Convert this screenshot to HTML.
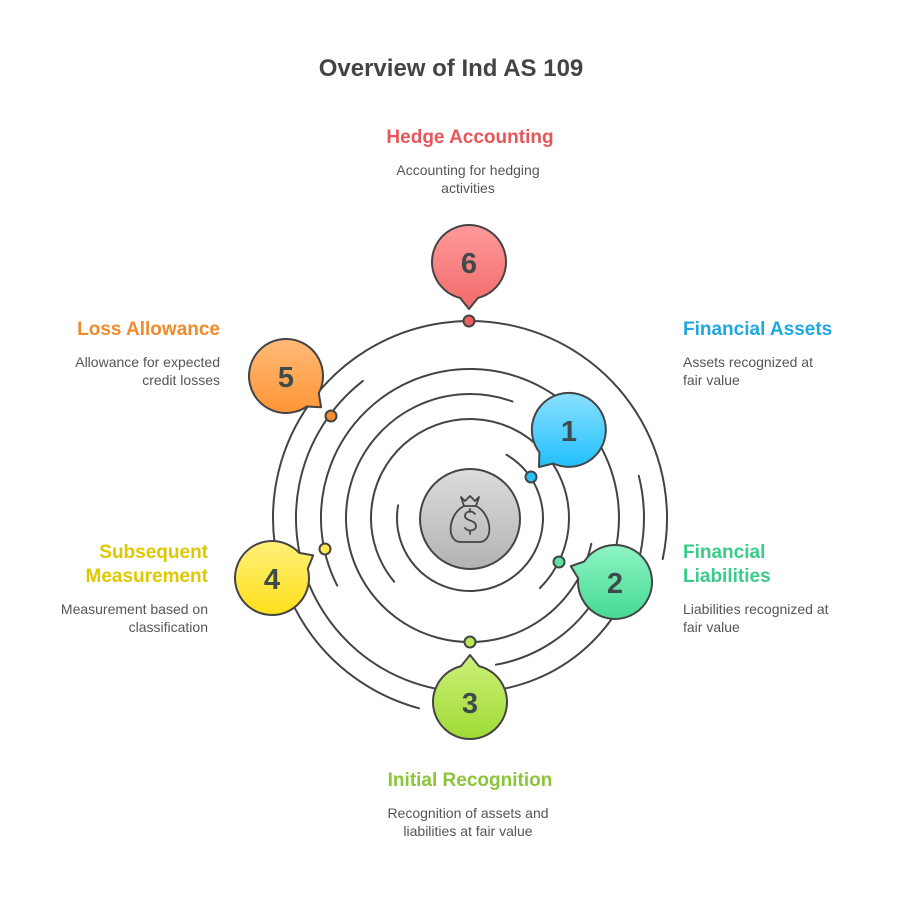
<!DOCTYPE html>
<html><head><meta charset="utf-8"><style>
html,body{margin:0;padding:0;background:#fff;}
svg{display:block;}
text{font-family:"Liberation Sans",Arial,sans-serif;}
.t{font-weight:bold;font-size:19px;}
.d{font-size:14px;fill:#555;}
</style></head><body>
<svg width="903" height="903" viewBox="0 0 903 903" xmlns="http://www.w3.org/2000/svg">
<defs>
<linearGradient id="gc" x1="0" y1="0" x2="0" y2="1"><stop offset="0" stop-color="#dcdcdc"/><stop offset="1" stop-color="#b3b3b3"/></linearGradient>
<linearGradient id="g1" x1="0" y1="0" x2="0" y2="1"><stop offset="0" stop-color="#8ae0ff"/><stop offset="1" stop-color="#22bffc"/></linearGradient>
<linearGradient id="g2" x1="0" y1="0" x2="0" y2="1"><stop offset="0" stop-color="#8ff5c4"/><stop offset="1" stop-color="#45d993"/></linearGradient>
<linearGradient id="g3" x1="0" y1="0" x2="0" y2="1"><stop offset="0" stop-color="#cdf07a"/><stop offset="1" stop-color="#9fdb35"/></linearGradient>
<linearGradient id="g4" x1="0" y1="0" x2="0" y2="1"><stop offset="0" stop-color="#fff07a"/><stop offset="1" stop-color="#ffe01a"/></linearGradient>
<linearGradient id="g5" x1="0" y1="0" x2="0" y2="1"><stop offset="0" stop-color="#ffbb78"/><stop offset="1" stop-color="#ff9536"/></linearGradient>
<linearGradient id="g6" x1="0" y1="0" x2="0" y2="1"><stop offset="0" stop-color="#ff9a9a"/><stop offset="1" stop-color="#f26a6a"/></linearGradient>
</defs>

<text x="451" y="76" text-anchor="middle" font-size="24" font-weight="bold" fill="#444">Overview of Ind AS 109</text>

<g fill="none" stroke="#444" stroke-width="2" stroke-linecap="round">
<path d="M506.5 454.8 A73 73 0 1 1 398.1 505.3"/>
<path d="M394.2 581.7 A99 99 0 1 1 540 588"/>
<path d="M591.3 543.8 A124 124 0 1 1 512.4 401.5"/>
<path d="M337.2 585.6 A149 149 0 1 1 495.9 664.7"/>
<path d="M638.8 475.9 A174 174 0 1 1 362.9 380.9"/>
<path d="M419 708.3 A197 197 0 1 1 662.7 559"/>
</g>

<circle cx="470" cy="519" r="50" fill="url(#gc)" stroke="#444" stroke-width="2"/>
<g fill="none" stroke="#444" stroke-width="1.8" stroke-linejoin="round" stroke-linecap="round">
<path d="M461 497 L465 501 L470 496 L475 501 L479 497 L476 506 L464 506 Z"/>
<path d="M464 506 C448 514 446 541 460 542 L480 542 C494 541 492 514 476 506"/>
<path d="M475 514 C472 510 465 511 465 516 C465 521 476 520 476 526 C476 531 468 532 465 528 M470 509 V512 M470 531 V534"/>
</g>

<g stroke="#444" stroke-width="2">
<circle cx="531" cy="477" r="5.5" fill="#2cc0fb"/>
<circle cx="559" cy="562" r="5.5" fill="#5fe0a4"/>
<circle cx="470" cy="642" r="5.5" fill="#b8e85a"/>
<circle cx="325" cy="549" r="5.5" fill="#ffe94f"/>
<circle cx="331" cy="416" r="5.5" fill="#f98c2e"/>
<circle cx="469" cy="321" r="5.5" fill="#f06060"/>
</g>

<g stroke="#444" stroke-width="2" stroke-linejoin="round">
<path fill="url(#g1)" d="M553.4 463.5 L539 467 L539.4 452.3 A37 37 0 1 1 553.4 463.5 Z"/>
<path fill="url(#g2)" d="M578.2 578.4 L570.8 566.2 L584.2 561.5 A37 37 0 1 1 578.2 578.4 Z"/>
<path fill="url(#g3)" d="M461 666.1 L470 655 L479 666.1 A37 37 0 1 1 461 666.1 Z"/>
<path fill="url(#g4)" d="M299.2 552.9 L313.2 555.4 L307.8 568.6 A37 37 0 1 1 299.2 552.9 Z"/>
<path fill="url(#g5)" d="M318.8 393.1 L321.1 407.2 L306.9 406.5 A37 37 0 1 1 318.8 393.1 Z"/>
<path fill="url(#g6)" d="M478 297.9 L469 309 L460 297.9 A37 37 0 1 1 478 297.9 Z"/>
</g>

<g font-size="29" font-weight="bold" fill="#3f4a4a" text-anchor="middle">
<text x="569" y="441">1</text>
<text x="615" y="593">2</text>
<text x="470" y="713">3</text>
<text x="272" y="589">4</text>
<text x="286" y="387">5</text>
<text x="469" y="273">6</text>
</g>

<text class="t" x="470" y="143" text-anchor="middle" fill="#e8555a">Hedge Accounting</text>
<text class="d" x="468" y="175" text-anchor="middle">Accounting for hedging</text>
<text class="d" x="468" y="193" text-anchor="middle">activities</text>

<text class="t" x="683" y="335" fill="#1fa8dd">Financial Assets</text>
<text class="d" x="683" y="367">Assets recognized at</text>
<text class="d" x="683" y="385">fair value</text>

<text class="t" x="683" y="558" fill="#39cc8a">Financial</text>
<text class="t" x="683" y="582" fill="#39cc8a">Liabilities</text>
<text class="d" x="683" y="614">Liabilities recognized at</text>
<text class="d" x="683" y="632">fair value</text>

<text class="t" x="470" y="786" text-anchor="middle" fill="#8bc53a">Initial Recognition</text>
<text class="d" x="468" y="818" text-anchor="middle">Recognition of assets and</text>
<text class="d" x="468" y="836" text-anchor="middle">liabilities at fair value</text>

<text class="t" x="208" y="558" text-anchor="end" fill="#e0c800">Subsequent</text>
<text class="t" x="208" y="582" text-anchor="end" fill="#e0c800">Measurement</text>
<text class="d" x="208" y="614" text-anchor="end">Measurement based on</text>
<text class="d" x="208" y="632" text-anchor="end">classification</text>

<text class="t" x="220" y="335" text-anchor="end" fill="#ef8a2d">Loss Allowance</text>
<text class="d" x="220" y="367" text-anchor="end">Allowance for expected</text>
<text class="d" x="220" y="385" text-anchor="end">credit losses</text>
</svg>
</body></html>
